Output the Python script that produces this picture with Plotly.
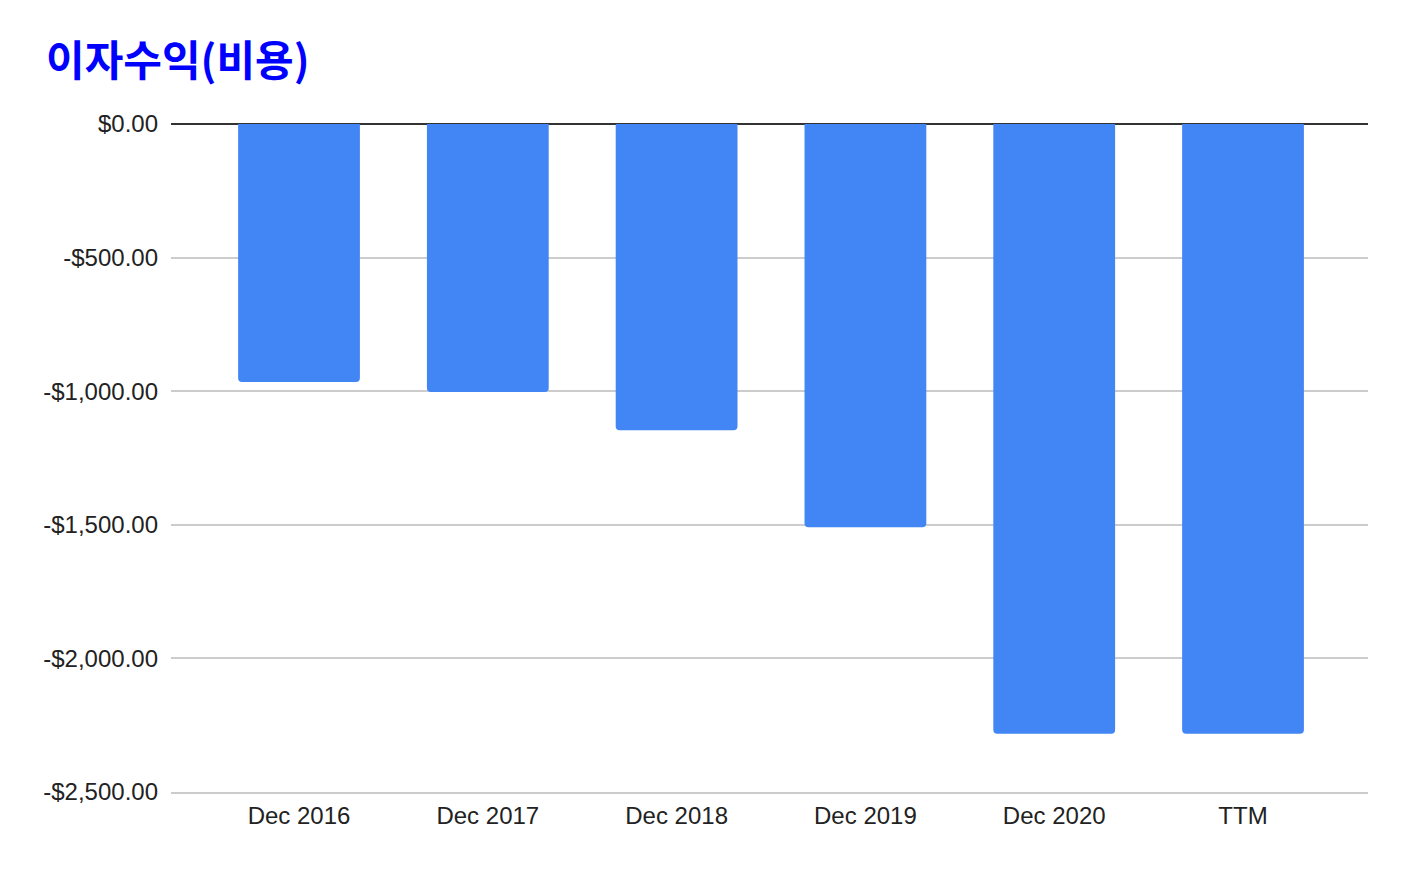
import plotly.graph_objects as go

categories = ["Dec 2016", "Dec 2017", "Dec 2018", "Dec 2019", "Dec 2020", "TTM"]
values = [-966, -1003, -1146, -1509, -2282, -2282]
y_ticks = [0, -500, -1000, -1500, -2000, -2500]
y_tick_labels = ["$0.00", "-$500.00", "-$1,000.00", "-$1,500.00", "-$2,000.00", "-$2,500.00"]
title_text = "이자수익(비용)"

fig = go.Figure(
    go.Bar(
        x=categories,
        y=values,
        marker=dict(color="#4285f4", line=dict(width=0), cornerradius=4),
        width=0.645,
    )
)

fig.update_layout(
    width=1412,
    height=872,
    margin=dict(l=163, r=52, t=116, b=88),
    paper_bgcolor="white",
    plot_bgcolor="white",
    showlegend=False,
    font=dict(family="Liberation Sans, Arial, sans-serif", size=24, color="#222222"),
    title=dict(
        text="<b>" + title_text + "</b>",
        font=dict(family="Noto Sans CJK KR, sans-serif", size=42, color="#0000ff"),
        x=38 / 1412,
        xanchor="left",
        xref="container",
        y=1 - 53 / 872,
        yanchor="middle",
        yref="container",
    ),
    xaxis=dict(
        range=[-0.678, 5.662],
        showgrid=False,
        showline=True,
        linecolor="#cccccc",
        linewidth=1.5,
        ticks="",
        tickfont=dict(size=24, color="#222222"),
        ticklabelstandoff=1,
    ),
    yaxis=dict(
        range=[-2500, 0],
        tickvals=y_ticks,
        ticktext=y_tick_labels,
        showgrid=True,
        gridcolor="#cccccc",
        gridwidth=1.5,
        zeroline=True,
        zerolinecolor="#333333",
        zerolinewidth=1.5,
        showline=False,
        ticks="",
        tickfont=dict(size=24, color="#222222"),
        ticklabelstandoff=12,
    ),
)

fig.write_html("out.html")
